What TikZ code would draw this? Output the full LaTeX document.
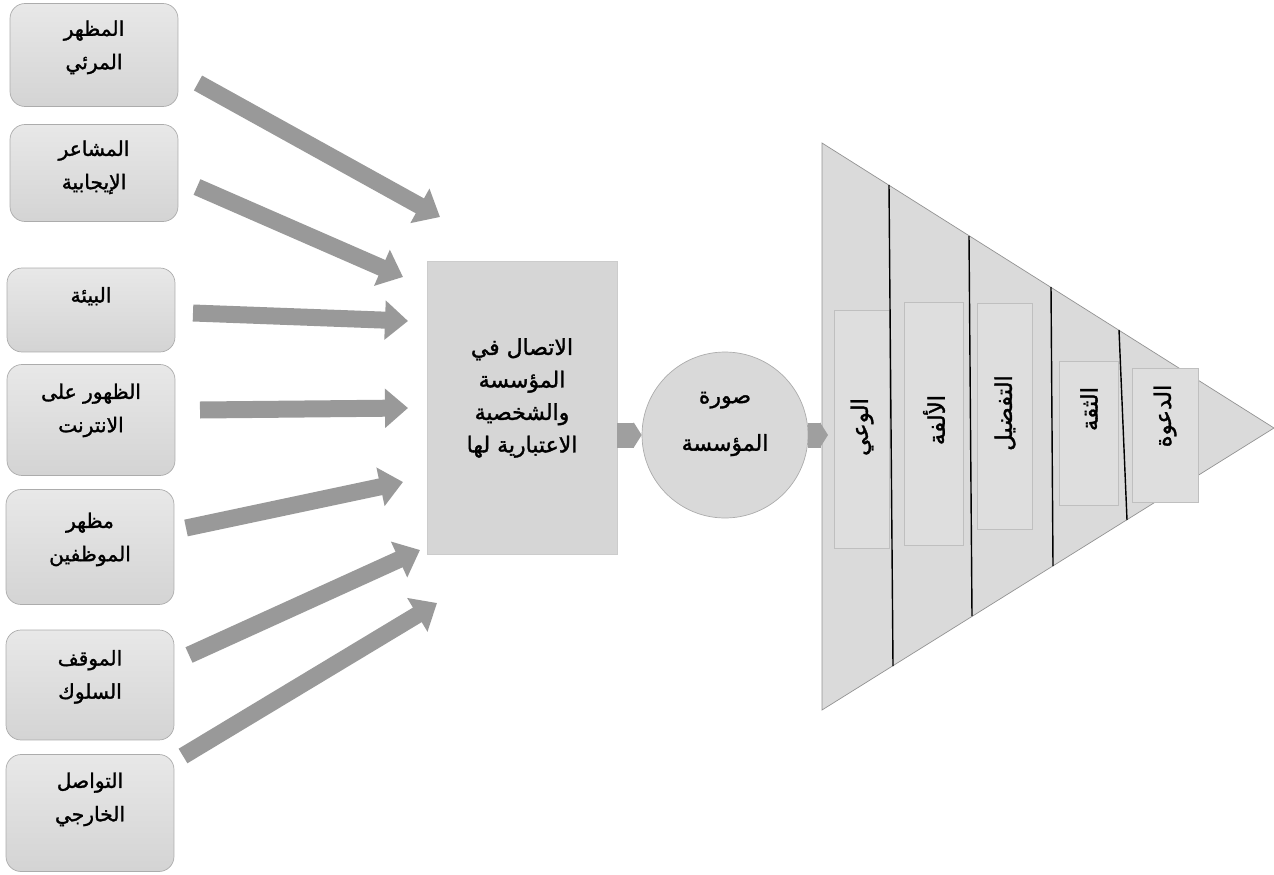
\documentclass[tikz,border=0pt]{standalone}
\usepackage{fontspec}
\newfontfamily\arabicfont[Script=Arabic, BoldFont={DejaVu Sans}, BoldFeatures={FakeBold=1.4}]{DejaVu Sans}
\TeXXeTstate=1
\usetikzlibrary{arrows.meta,positioning,calc}
\newcommand\ar[1]{\beginR #1\endR}

\tikzset{
  src/.style={draw=gray!65, rounded corners=0.3cm, top color=gray!18, bottom color=gray!34, minimum width=3.36cm},
  srctext/.style={align=center, font=\arabicfont\bfseries\fontsize{11.5}{19}\selectfont, inner sep=0pt},
  bigarrow/.style={color=gray!80, line width=0.34cm, -{Triangle[width=0.76cm,length=0.46cm]}},
  chevron/.style={color=gray!75, line width=0.5cm, -{Triangle[width=0.5cm,length=0.16cm]}},
  stage/.style={draw=gray!50, fill=gray!26, inner sep=0pt},
  stagetext/.style={font=\arabicfont\bfseries\fontsize{13}{15}\selectfont, inner sep=0pt, rotate=90},
  divider/.style={line width=0.8pt, black}
}

\begin{document}
\begin{tikzpicture}[x=0.02cm, y=-0.02cm]
\useasboundingbox (0,0) rectangle (1274,875);

% left boxes
\node[src, minimum height=2.06cm] (vis) at (94,55) {};
\node[srctext, below=0.34cm of vis.north] {\ar{المظهر}\\\ar{المرئي}};
\node[src, minimum height=1.94cm] (feel) at (94,173) {};
\node[srctext, below=0.32cm of feel.north] {\ar{المشاعر}\\\ar{الإيجابية}};
\node[src, minimum height=1.68cm] (env) at (91,310) {};
\node[srctext, below=0.38cm of env.north] {\ar{البيئة}};
\node[src, minimum height=2.22cm] (web) at (91,420) {};
\node[srctext, below=0.38cm of web.north] {\ar{الظهور على}\\\ar{الانترنت}};
\node[src, minimum height=2.3cm] (staff) at (90,547) {};
\node[srctext, below=0.46cm of staff.north] {\ar{مظهر}\\\ar{الموظفين}};
\node[src, minimum height=2.2cm] (attit) at (90,685) {};
\node[srctext, below=0.4cm of attit.north] {\ar{الموقف}\\\ar{السلوك}};
\node[src, minimum height=2.34cm] (ext) at (90,813) {};
\node[srctext, below=0.36cm of ext.north] {\ar{التواصل}\\\ar{الخارجي}};

% centre
\node[draw=gray!40, fill=gray!32, minimum width=3.8cm, minimum height=5.86cm] (comm) at (522,408) {};
\node[srctext, font=\arabicfont\bfseries\fontsize{12.5}{18.5}\selectfont] at ($(comm)+(0,-10)$)
  {\ar{الاتصال في}\\\ar{المؤسسة}\\\ar{والشخصية}\\\ar{الاعتبارية لها}};
\node[circle, draw=gray!65, fill=gray!30, minimum size=3.32cm, inner sep=0pt] (img) at (725,435) {};
\node[srctext, font=\arabicfont\bfseries\fontsize{12.5}{18}\selectfont] at ($(img)+(0,-11)$)
  {\ar{صورة}\\[0.32cm]\ar{المؤسسة}};

% arrows into the centre
\coordinate (t1) at (198,83);  \coordinate (h1) at (440,217);
\coordinate (t2) at (197,187); \coordinate (h2) at (403,277);
\coordinate (t3) at (193,313); \coordinate (h3) at (408,321);
\coordinate (t4) at (200,410); \coordinate (h4) at (408,408);
\coordinate (t5) at (186,528); \coordinate (h5) at (403,482);
\coordinate (t6) at (189,655); \coordinate (h6) at (420,550);
\coordinate (t7) at (183,756); \coordinate (h7) at (437,603);
\draw[bigarrow] (t1) -- (h1);
\draw[bigarrow] (t2) -- (h2);
\draw[bigarrow] (t3) -- (h3);
\draw[bigarrow] (t4) -- (h4);
\draw[bigarrow] (t5) -- (h5);
\draw[bigarrow] (t6) -- (h6);
\draw[bigarrow] (t7) -- (h7);

% funnel
\draw[draw=gray!85, fill=gray!29] (822,143) -- (1274,428) -- (822,710) -- cycle;
\coordinate (fin) at (828,435);

\node[stage, minimum width=1.10cm, minimum height=4.76cm] (s1) at (861.5,429) {};
\node[stage, minimum width=1.18cm, minimum height=4.86cm] (s2) at (933.5,423.5) {};
\node[stage, minimum width=1.10cm, minimum height=4.52cm] (s3) at (1004.5,416) {};
\node[stage, minimum width=1.18cm, minimum height=2.88cm] (s4) at (1088.5,433) {};
\node[stage, minimum width=1.32cm, minimum height=2.68cm] (s5) at (1165,435) {};
\node[stagetext] at (862,427) {\ar{الوعي}};
\node[stagetext] at (934,420) {\ar{الألفة}};
\node[stagetext] at (1005,413) {\ar{التفضيل}};
\node[stagetext] at (1089,409) {\ar{الثقة}};
\node[stagetext] at (1165,416) {\ar{الدعوة}};

\draw[divider] (889,185) -- (893,666);
\draw[divider] (969,236) -- (972,616);
\draw[divider] (1051,287) -- (1053,566);
\draw[divider] (1119,330) -- (1127,520);

% small arrows between centre, circle and funnel
\draw[chevron] (comm.east |- img.west) -- (img.west);
\draw[chevron] (img.east) -- (fin);
\end{tikzpicture}
\end{document}
